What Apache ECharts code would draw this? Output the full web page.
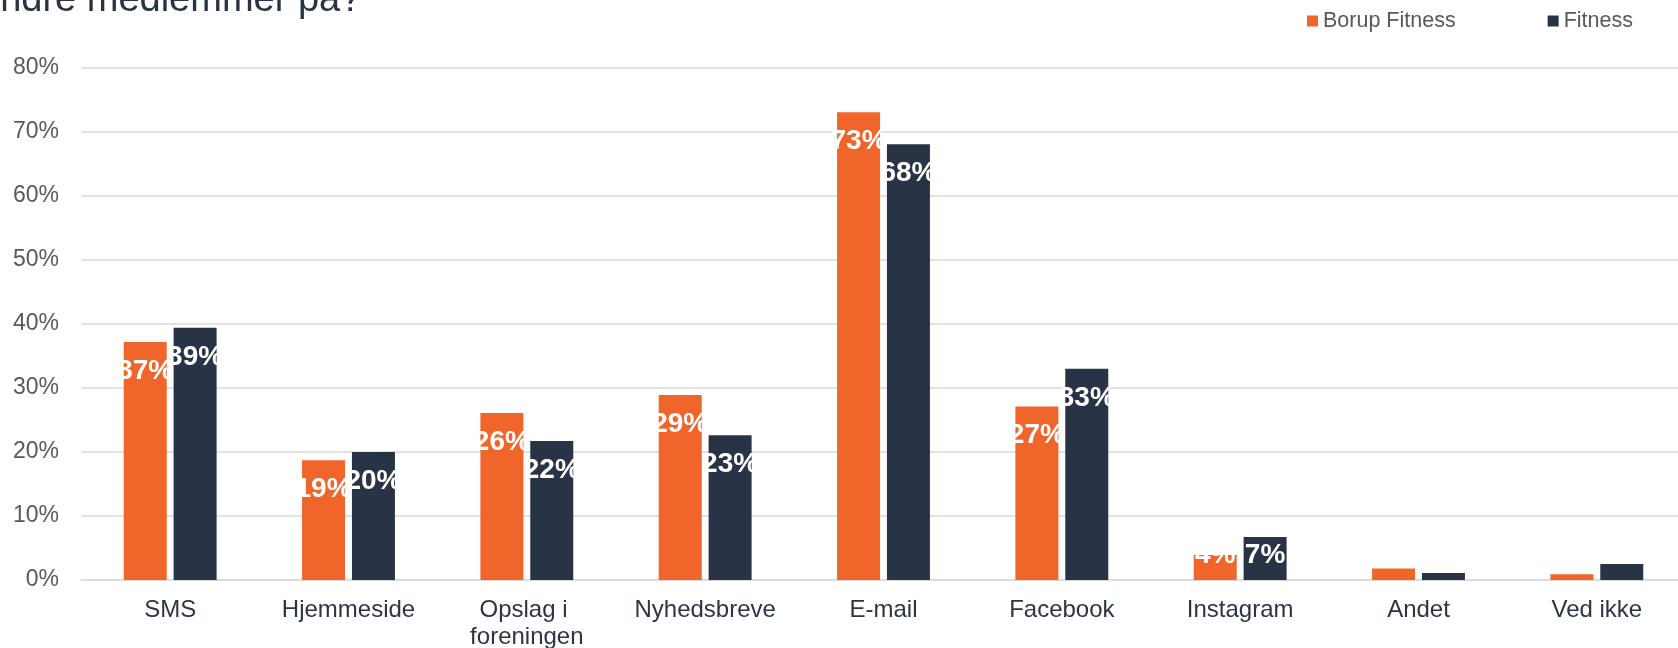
<!DOCTYPE html>
<html>
<head>
<meta charset="utf-8">
<script src="https://cdn.jsdelivr.net/npm/echarts@6/dist/echarts.min.js"></script>
<style>
html,body{margin:0;padding:0;background:#fff;}
#c{width:1678px;height:648px;}
</style>
</head>
<body>
<div id="c"></div>
<script>
const titleText = 'andre medlemmer på?';
const categories = ['SMS', 'Hjemmeside', 'Opslag i foreningen', 'Nyhedsbreve', 'E-mail', 'Facebook', 'Instagram', 'Andet', 'Ved ikke'];
const seriesNames = ['Borup Fitness', 'Fitness'];
const borupValues = [37.2, 18.7, 26.1, 28.9, 73.1, 27.1, 3.9, 1.8, 0.9];
const fitnessValues = [39.4, 20.0, 21.7, 22.6, 68.1, 33.0, 6.7, 1.1, 2.5];
const yTicks = [0, 10, 20, 30, 40, 50, 60, 70, 80];

const colors = ['#F0652A', '#283446'];
const FONT = '"Liberation Sans", Arial, sans-serif';

function buildData(values) {
  return values.map(v => {
    const item = { value: v };
    if (v < 3) {
      item.label = { show: false };
    } else if (v < 8) {
      item.label = { position: 'insideBottom', distance: 11 };
    }
    return item;
  });
}

const labelCfg = {
  show: true,
  position: 'insideTop',
  distance: 15,
  color: '#ffffff',
  fontWeight: 'bold',
  fontSize: 28,
  lineHeight: 28,
  fontFamily: FONT,
  formatter: p => Math.round(p.value) + '%'
};

const chart = echarts.init(document.getElementById('c'), null, { renderer: 'canvas' });
chart.setOption({
  animation: false,
  backgroundColor: '#ffffff',
  title: {
    text: titleText,
    left: -26,
    top: -23,
    textStyle: { fontSize: 38, fontWeight: 'normal', color: '#283444', fontFamily: FONT, lineHeight: 38 }
  },
  legend: {
    data: seriesNames,
    left: 1302,
    top: 5,
    icon: 'rect',
    itemWidth: 11,
    itemHeight: 11,
    itemGap: 92,
    textStyle: { fontSize: 21.5, color: '#595959', fontFamily: FONT }
  },
  grid: { left: 81, right: -8, top: 68, bottom: 68, containLabel: false, outerBoundsMode: 'none' },
  xAxis: {
    type: 'category',
    data: categories,
    axisLine: { show: true, lineStyle: { color: '#d9d9d9', width: 1.5 } },
    axisTick: { show: false },
    axisLabel: {
      margin: 17,
      fontSize: 24,
      lineHeight: 27,
      color: '#2b3544',
      fontFamily: FONT,
      interval: 0,
      width: 172,
      overflow: 'break'
    }
  },
  yAxis: {
    type: 'value',
    min: yTicks[0],
    max: yTicks[yTicks.length - 1],
    interval: yTicks[1] - yTicks[0],
    axisLine: { show: false },
    axisTick: { show: false },
    splitLine: { lineStyle: { color: '#d9d9d9', width: 1.5 } },
    axisLabel: {
      margin: 22,
      fontSize: 23,
      color: '#595959',
      fontFamily: FONT,
      formatter: '{value}%'
    }
  },
  series: [
    {
      name: seriesNames[0],
      type: 'bar',
      data: buildData(borupValues),
      barWidth: 43,
      barGap: '16%',
      itemStyle: { color: colors[0] },
      label: labelCfg
    },
    {
      name: seriesNames[1],
      type: 'bar',
      data: buildData(fitnessValues),
      barWidth: 43,
      barGap: '16%',
      itemStyle: { color: colors[1] },
      label: labelCfg
    }
  ]
});
</script>
</body>
</html>
